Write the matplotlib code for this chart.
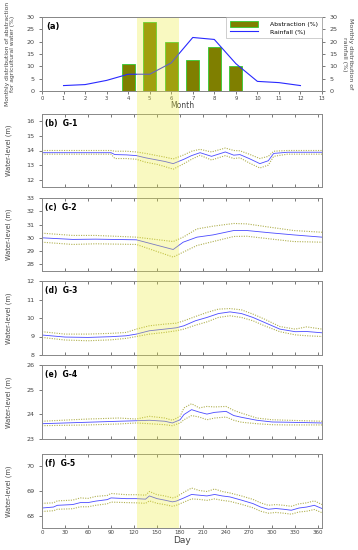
import matplotlib
matplotlib.use("Agg")
import matplotlib.pyplot as plt
from matplotlib.patches import Rectangle
import numpy as np

# monthly distributions (panel a)
months_abs = [4, 5, 6, 7, 8, 9]
abstraction = [11, 28, 20, 12.5, 18, 10]
months_rain = [1, 2, 3, 4, 5, 6, 7, 8, 9, 10, 11, 12]
rainfall = [2.2, 2.6, 4.3, 6.8, 6.8, 11.4, 21.7, 20.9, 11.1, 3.9, 3.4, 2.2]

# daily water levels (panels b-f): mean and upper / lower envelope
days_g1 = [0, 90, 95, 110, 123, 135, 150, 160, 171, 185, 195, 206, 221, 239, 250, 258, 270, 284, 295, 302, 320, 365]
mean_g1 = [13.85, 13.85, 13.72, 13.7, 13.65, 13.5, 13.35, 13.25, 13.1, 13.4, 13.65, 13.85, 13.6, 13.9, 13.68, 13.72, 13.45, 13.1, 13.3, 13.8, 13.88, 13.88]
upper_g1 = [14.0, 14.0, 13.95, 13.95, 13.9, 13.8, 13.65, 13.55, 13.42, 13.7, 13.95, 14.08, 13.9, 14.17, 14.0, 13.98, 13.75, 13.45, 13.6, 13.95, 14.0, 14.0]
lower_g1 = [13.75, 13.75, 13.45, 13.45, 13.4, 13.2, 13.05, 12.9, 12.72, 13.1, 13.4, 13.67, 13.35, 13.65, 13.45, 13.5, 13.15, 12.8, 13.0, 13.6, 13.75, 13.75]

days_g2 = [0, 40, 70, 123, 171, 184, 202, 223, 250, 267, 297, 328, 365]
mean_g2 = [30.0, 29.88, 29.9, 29.85, 29.12, 29.67, 30.05, 30.22, 30.55, 30.55, 30.38, 30.22, 30.05]
upper_g2 = [30.35, 30.18, 30.18, 30.05, 29.72, 30.05, 30.67, 30.88, 31.08, 31.05, 30.8, 30.55, 30.42]
lower_g2 = [29.67, 29.5, 29.55, 29.5, 28.55, 28.92, 29.42, 29.72, 30.1, 30.12, 29.92, 29.72, 29.67]

days_g3 = [0, 30, 60, 90, 110, 123, 140, 160, 175, 185, 200, 215, 230, 245, 260, 275, 290, 310, 330, 345, 365]
mean_g3 = [9.08, 8.97, 8.95, 8.99, 9.04, 9.13, 9.31, 9.4, 9.47, 9.58, 9.85, 10.03, 10.24, 10.33, 10.24, 10.03, 9.76, 9.4, 9.26, 9.27, 9.2]
upper_g3 = [9.26, 9.13, 9.13, 9.17, 9.22, 9.4, 9.58, 9.67, 9.72, 9.85, 10.08, 10.3, 10.48, 10.51, 10.44, 10.21, 9.94, 9.54, 9.4, 9.52, 9.4]
lower_g3 = [8.95, 8.81, 8.77, 8.82, 8.9, 9.0, 9.13, 9.22, 9.31, 9.4, 9.61, 9.79, 10.03, 10.12, 10.03, 9.85, 9.58, 9.26, 9.09, 9.04, 9.0]

days_g4 = [0, 60, 100, 123, 140, 160, 170, 180, 185, 195, 205, 215, 225, 240, 250, 260, 280, 300, 320, 365]
mean_g4 = [23.62, 23.68, 23.72, 23.74, 23.76, 23.72, 23.65, 23.78, 23.99, 24.19, 24.09, 24.01, 24.08, 24.12, 23.95, 23.88, 23.76, 23.69, 23.68, 23.65]
upper_g4 = [23.72, 23.81, 23.85, 23.81, 23.92, 23.85, 23.76, 23.92, 24.26, 24.43, 24.26, 24.32, 24.3, 24.32, 24.16, 24.05, 23.85, 23.78, 23.76, 23.72]
lower_g4 = [23.54, 23.57, 23.61, 23.65, 23.62, 23.58, 23.54, 23.65, 23.78, 23.95, 23.89, 23.78, 23.85, 23.89, 23.76, 23.68, 23.62, 23.58, 23.57, 23.57]

days_g5 = [0, 15, 20, 40, 50, 60, 70, 85, 90, 110, 123, 135, 140, 150, 160, 170, 175, 185, 195, 205, 215, 225, 235, 245, 260, 275, 285, 295, 305, 315, 325, 335, 345, 355, 365]
mean_g5 = [68.31, 68.35, 68.42, 68.45, 68.53, 68.53, 68.59, 68.65, 68.72, 68.69, 68.69, 68.67, 68.8, 68.69, 68.63, 68.56, 68.59, 68.72, 68.86, 68.83, 68.8, 68.86, 68.8, 68.76, 68.63, 68.49, 68.35, 68.26, 68.29, 68.26, 68.22, 68.31, 68.35, 68.42, 68.29]
upper_g5 = [68.5, 68.52, 68.6, 68.63, 68.72, 68.7, 68.78, 68.82, 68.9, 68.85, 68.85, 68.83, 68.98, 68.85, 68.8, 68.72, 68.76, 68.95, 69.12, 69.02, 68.98, 69.08, 68.98, 68.92, 68.8, 68.66, 68.52, 68.42, 68.45, 68.42, 68.38, 68.48, 68.52, 68.6, 68.45]
lower_g5 = [68.17, 68.2, 68.26, 68.28, 68.36, 68.36, 68.42, 68.48, 68.55, 68.53, 68.52, 68.5, 68.6, 68.5, 68.45, 68.38, 68.42, 68.55, 68.68, 68.66, 68.62, 68.68, 68.62, 68.58, 68.46, 68.32, 68.18, 68.1, 68.13, 68.1, 68.06, 68.15, 68.18, 68.25, 68.12]

wells = [
    ("(b)  G-1", days_g1, mean_g1, upper_g1, lower_g1, (11.5, 16.5), [12, 13, 14, 15, 16]),
    ("(c)  G-2", days_g2, mean_g2, upper_g2, lower_g2, (27.5, 33), [28, 29, 30, 31, 32, 33]),
    ("(d)  G-3", days_g3, mean_g3, upper_g3, lower_g3, (8, 12), [8, 9, 10, 11, 12]),
    ("(e)  G-4", days_g4, mean_g4, upper_g4, lower_g4, (23, 26), [23, 24, 25, 26]),
    ("(f)  G-5", days_g5, mean_g5, upper_g5, lower_g5, (67.5, 70.5), [68, 69, 70]),
]

# dry-season window (days) highlighted across all panels
band_days = (124, 179)

fs = 4.6
gray = "#444444"
spine_c = "#888888"

fig = plt.figure(figsize=(3.58, 5.5), dpi=100)
L, W = 42 / 358, 280 / 358
# top, bottom (pixels) of each panel
rows = [(17, 91), (114, 187), (198, 271), (281, 355), (365, 439), (454, 528)]
axes = []
for top, bot in rows:
    ax = fig.add_axes([L, 1 - bot / 550, W, (bot - top) / 550])
    ax.set_facecolor("none")
    for s in ax.spines.values():
        s.set_color(spine_c)
        s.set_linewidth(0.7)
    ax.tick_params(labelsize=fs, colors=gray, length=2, width=0.5)
    axes.append(ax)

# panel a
ax = axes[0]
ax.bar(months_abs, abstraction, width=0.6, color="#7f7f00", edgecolor="#33cc33",
       linewidth=0.6, label="Abstraction (%)", zorder=2)
ax.set_xlim(0, 13)
ax.set_ylim(0, 30)
ax.set_xticks(range(14))
ax.set_yticks(range(0, 31, 5))
ax.tick_params(axis="x", labelsize=3.8, pad=1.5)
ax.set_xlabel("Month", fontsize=5.5, labelpad=0, color=gray)
ax.set_ylabel("Monthly distribution of abstraction\nfor agricultural water (%)",
              fontsize=4.3, color=gray, linespacing=1.2)
ax.yaxis.set_label_coords(-0.095, 0.5)
ax.text(0.015, 0.93, "(a)", transform=ax.transAxes, fontsize=6, fontweight="bold",
        va="top", ha="left")
ax2 = ax.twinx()
ax2.plot(months_rain, rainfall, color="#2929ff", lw=0.8, label="Rainfall (%)", zorder=3)
ax2.set_ylim(0, 30)
ax2.set_yticks(range(0, 31, 5))
ax2.tick_params(labelsize=fs, colors=gray, length=2, width=0.5)
for s in ax2.spines.values():
    s.set_color(spine_c)
    s.set_linewidth(0.7)
ax2.set_ylabel("Monthly distribution of\nrainfall (%)", fontsize=4.5, color=gray,
               rotation=270, va="center", linespacing=1.2)
ax2.yaxis.set_label_coords(1.09, 0.5)
h1, l1 = ax.get_legend_handles_labels()
h2, l2 = ax2.get_legend_handles_labels()
leg = ax2.legend(h1 + h2, l1 + l2, loc="upper right", fontsize=4.4, frameon=True,
                 fancybox=False, edgecolor="#aaaaaa", borderpad=0.6, handlelength=4.6,
                 handleheight=1.1, labelspacing=0.35, borderaxespad=0.0,
                 handletextpad=2.0)
leg.get_frame().set_linewidth(0.5)

# panels b-f
for ax, (lab, d, m, u, lo, ylim, yt) in zip(axes[1:], wells):
    ax.plot(d, u, color="#b0b050", lw=0.8, ls=(0, (1, 1.2)))
    ax.plot(d, lo, color="#b0b050", lw=0.8, ls=(0, (1, 1.2)))
    ax.plot(d, m, color="#4a4aff", lw=0.6)
    ax.set_xlim(0, 365)
    ax.set_ylim(*ylim)
    ax.set_yticks(yt)
    ax.set_xticks(range(0, 361, 30))
    ax.tick_params(axis="x", direction="in", top=True, length=2)
    ax.set_ylabel("Water-level (m)", fontsize=4.8, color=gray)
    ax.yaxis.set_label_coords(-0.107, 0.5)
    ax.text(0.01, 0.93, lab, transform=ax.transAxes, fontsize=5.5, fontweight="bold",
            va="top", ha="left")
for ax in axes[1:-1]:
    ax.tick_params(axis="x", labelbottom=False)
axes[-1].tick_params(axis="x", labelsize=4, pad=1.5)
axes[-1].set_xlabel("Day", fontsize=6.5, labelpad=1, color=gray)

# highlight band across all panels (position from the day axis)
x0 = fig.transFigure.inverted().transform(axes[-1].transData.transform((band_days[0], 0)))[0]
x1 = fig.transFigure.inverted().transform(axes[-1].transData.transform((band_days[1], 0)))[0]
y_top = 1 - 18 / 550
y_bot = axes[-1].get_position().y0
fig.patches.append(Rectangle((x0, y_bot), x1 - x0, y_top - y_bot, transform=fig.transFigure,
                             facecolor=(0.93, 0.93, 0.2), alpha=0.3, edgecolor="none",
                             zorder=10))

fig.savefig("out.png", dpi=100)
